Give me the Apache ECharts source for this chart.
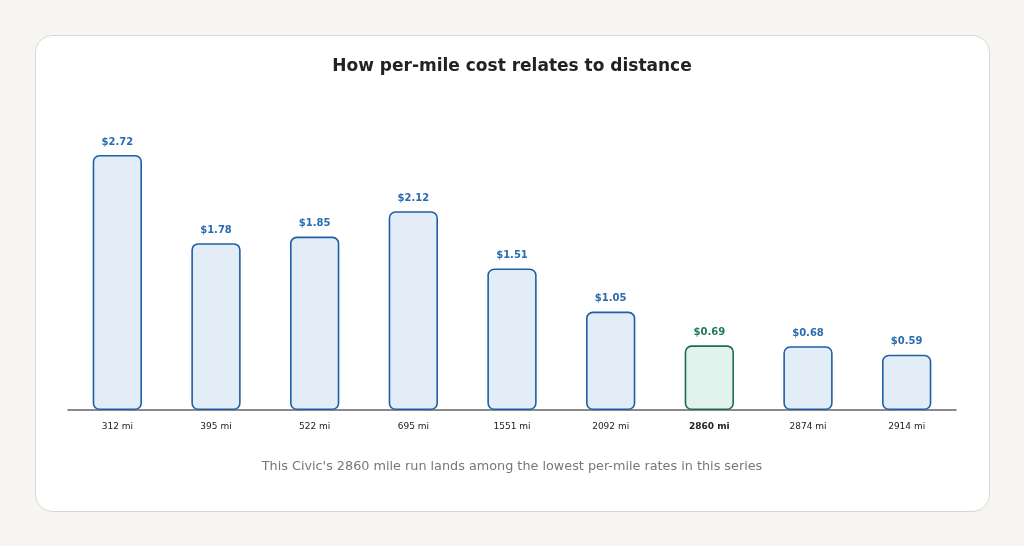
<!DOCTYPE html>
<html>
<head>
<meta charset="utf-8">
<script src="https://cdn.jsdelivr.net/npm/echarts@6/dist/echarts.min.js"></script>
<style>
    html, body { margin: 0; padding: 0; background: #f6f5f1; }
    .card {
        position: absolute; left: 35px; top: 35px; width: 953px; height: 475px;
        background: #fff; border: 1px solid #d9d7d1; border-radius: 18px;
    }
    #chart { position: absolute; left: 0; top: 0; width: 1024px; height: 546px; }
</style>
</head>
<body>
<div class="card"></div>
<div id="chart"></div>
<script>
// miles per run and per-mile cost
const distances = ["312 mi", "395 mi", "522 mi", "695 mi", "1551 mi", "2092 mi", "2860 mi", "2874 mi", "2914 mi"];
const costPerMile = [2.72, 1.78, 1.85, 2.12, 1.51, 1.05, 0.69, 0.68, 0.59];
const highlight = "2860 mi";

const FONT = "DejaVu Sans";

let dom = document.getElementById("chart");
let myChart = echarts.init(dom, null, { renderer: "canvas" });

let barData = costPerMile.map((v, i) => {
    let hit = distances[i] === highlight;
    return {
        value: v,
        itemStyle: hit ? { color: "#e1f3ec", borderColor: "#1d6e4e" } : {},
        label: hit ? { color: "#23795a" } : {}
    };
});

let options = {
    backgroundColor: "transparent",
    animation: false,
    title: [
        {
            text: "How per-mile cost relates to distance",
            left: "center", top: 53,
            textStyle: { fontFamily: FONT, fontSize: 17, fontWeight: "bold", color: "#222" }
        },
        {
            text: "This Civic's 2860 mile run lands among the lowest per-mile rates in this series",
            left: "center", top: 455,
            textStyle: { fontFamily: FONT, fontSize: 12.8, fontWeight: "normal", color: "#777" }
        }
    ],
    grid: { left: 68, right: 68, top: 128.75, bottom: 136 },
    xAxis: {
        type: "category",
        data: distances,
        axisLine: { lineStyle: { color: "#666", width: 1.5 } },
        axisTick: { show: false },
        axisLabel: {
            fontFamily: FONT, fontSize: 9, color: "#222", margin: 12,
            formatter: v => v === highlight ? "{b|" + v + "}" : v,
            rich: { b: { fontFamily: FONT, fontSize: 9, fontWeight: "bold", color: "#222" } }
        }
    },
    yAxis: {
        type: "value", min: 0, max: 3,
        show: false, splitLine: { show: false }
    },
    series: [{
        type: "bar",
        data: barData,
        barWidth: "50%",
        itemStyle: { color: "#e3edf8", borderColor: "#1f5fa6", borderWidth: 1.6, borderRadius: 6 },
        label: {
            show: true, position: "top", distance: 8,
            fontFamily: FONT, fontSize: 10, fontWeight: "bold", color: "#2b6cb0",
            formatter: p => "$" + p.value.toFixed(2)
        }
    }]
};

myChart.setOption(options);
</script>
</body>
</html>
